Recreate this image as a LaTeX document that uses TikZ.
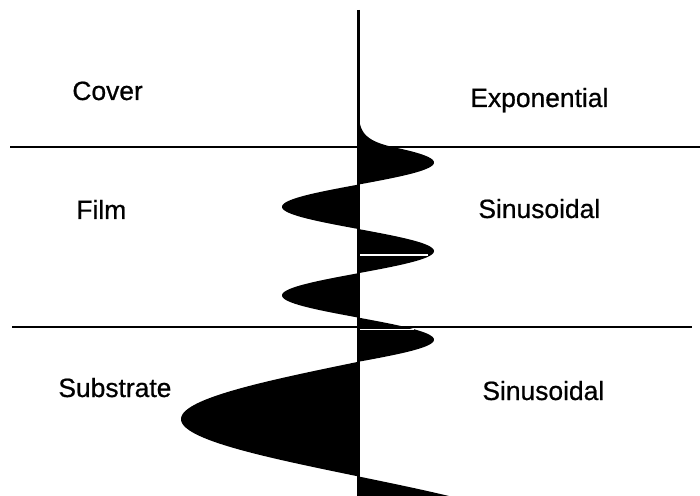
\documentclass[tikz,border=0pt]{standalone}
\usepackage{fontspec}
\setmainfont{Liberation Sans}
\newfontfamily\lblfont[FakeBold=0.7]{Liberation Sans}
\begin{document}
\begin{tikzpicture}[x=0.5pt,y=-0.5pt,
  lbl/.style={font=\lblfont\fontsize{13.2}{15}\selectfont, inner sep=0pt, anchor=base west},
  interface/.style={line width=1.1pt},
  axisline/.style={line width=1.5pt},
  gap/.style={white, line width=0.7pt}]
\useasboundingbox (0,0) rectangle (700,496);
% field profile
\fill[black] (358,60)
  -- plot[domain=60:147,samples=60,variable=\t] ({358+34.5*exp((\t-147)/8)},\t)
  -- plot[domain=147:361.85,samples=220,variable=\t] ({358+76*cos((\t-162.5)*4.0632)},\t)
  -- plot[domain=361.85:496,samples=140,variable=\t] ({358-177*sin((\t-361.85)*1.5721)},\t)
  -- (358,496) -- cycle;
\draw[gap] (360,255) -- (428,255);
\draw[gap] (360,329.5) -- (414,329.5);
% interfaces and axis
\draw[interface] (10,147) -- (700,147);
\draw[interface] (12,327) -- (692,327);
\draw[axisline] (358,10) -- (358,496);
% labels
\node[lbl] (cover) at (72,100) {Cover};
\node[lbl] (film) at (76,219) {Film};
\node[lbl] (substrate) at (58,397) {Substrate};
\node[lbl] (expo) at (470,107) {Exponential};
\node[lbl] (sinfilm) at (478,218) {Sinusoidal};
\node[lbl] (sinsub) at (482,400) {Sinusoidal};
\end{tikzpicture}
\end{document}
